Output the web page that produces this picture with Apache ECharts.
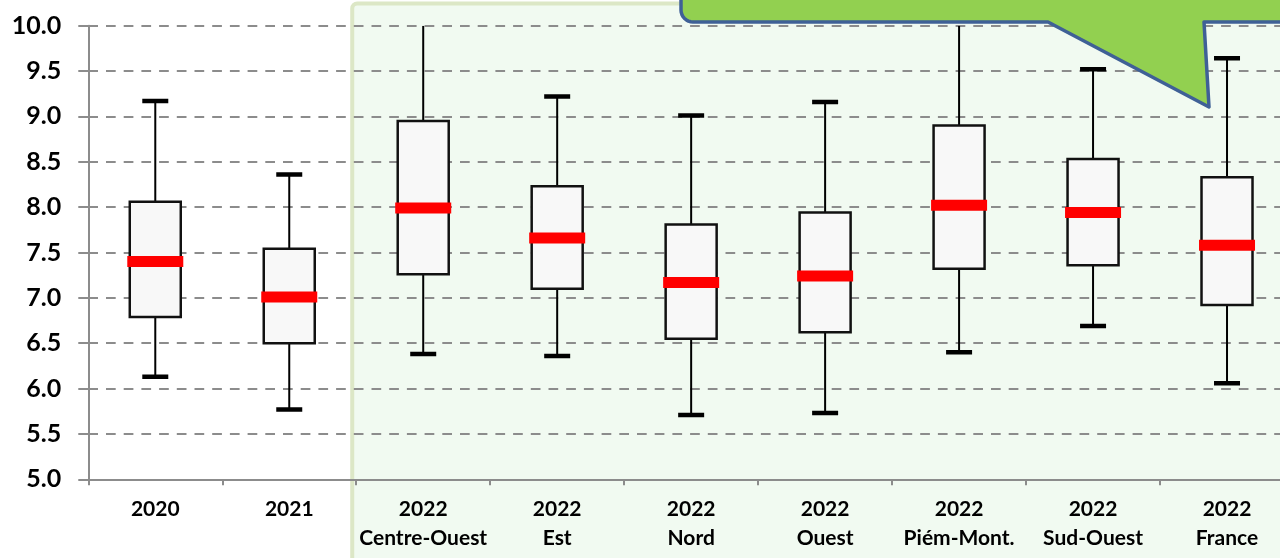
<!DOCTYPE html>
<html>
<head>
<meta charset="utf-8">
<script src="https://cdn.jsdelivr.net/npm/echarts@6/dist/echarts.min.js"></script>
<style>
  html, body { margin: 0; padding: 0; background: #ffffff; overflow: hidden; }
  #chart { width: 1300px; height: 558px; }
</style>
</head>
<body>
<div id="chart"></div>
<script>
// Category labels: year on the first line, region on the second
const years   = ['2020', '2021', '2022', '2022', '2022', '2022', '2022', '2022', '2022'];
const regions = ['', '', 'Centre-Ouest', 'Est', 'Nord', 'Ouest', 'Piém-Mont.', 'Sud-Ouest', 'France'];

// Box statistics per category
const minimum = [6.13, 5.77, 6.38, 6.36, 5.71, 5.73, 6.40, 6.69, 6.06];
const q1      = [6.79, 6.50, 7.26, 7.10, 6.55, 6.62, 7.32, 7.36, 6.92];
const median  = [7.40, 7.01, 7.99, 7.66, 7.17, 7.24, 8.02, 7.94, 7.58];
const q3      = [8.06, 7.54, 8.95, 8.23, 7.81, 7.94, 8.90, 8.53, 8.33];
const maximum = [9.17, 8.36, 10.2, 9.22, 9.01, 9.16, 10.2, 9.52, 9.64];

// Value axis ticks
const yTicks = [5.0, 5.5, 6.0, 6.5, 7.0, 7.5, 8.0, 8.5, 9.0, 9.5, 10.0];

const categories = years.map((y, i) => regions[i] ? y + '\n' + regions[i] : y);
const boxData = categories.map((c, i) => [i, minimum[i], q1[i], median[i], q3[i], maximum[i]]);

const chart = echarts.init(document.getElementById('chart'), null, { renderer: 'canvas' });

function renderBox(params, api) {
  const cs = params.coordSys;
  const i = api.value(0);
  const x = api.coord([i, api.value(3)])[0];
  const top = cs.y, bottom = cs.y + cs.height;
  const yMin = api.coord([i, api.value(1)])[1];
  const yQ1  = api.coord([i, api.value(2)])[1];
  const yMed = api.coord([i, api.value(3)])[1];
  const yQ3  = api.coord([i, api.value(4)])[1];
  const yMax = api.coord([i, api.value(5)])[1];
  const boxW = 51, capW = 26, capH = 4.5, medW = 56, medH = 11;
  const children = [];
  // upper whisker, clipped to the plot area
  children.push({ type: 'line', shape: { x1: x, y1: Math.max(yMax, top), x2: x, y2: yQ3 },
    style: { stroke: '#000', lineWidth: 2 } });
  if (yMax >= top) {
    children.push({ type: 'rect', shape: { x: x - capW / 2, y: yMax - capH / 2, width: capW, height: capH },
      style: { fill: '#000' } });
  }
  // lower whisker
  children.push({ type: 'line', shape: { x1: x, y1: yQ1, x2: x, y2: Math.min(yMin, bottom) },
    style: { stroke: '#000', lineWidth: 2 } });
  if (yMin <= bottom) {
    children.push({ type: 'rect', shape: { x: x - capW / 2, y: yMin - capH / 2, width: capW, height: capH },
      style: { fill: '#000' } });
  }
  // interquartile box
  children.push({ type: 'rect', shape: { x: x - boxW / 2, y: yQ3, width: boxW, height: yQ1 - yQ3 },
    style: { fill: '#f8f8f8', stroke: '#111', lineWidth: 2.5 } });
  // median bar
  children.push({ type: 'rect', shape: { x: x - medW / 2, y: yMed - medH / 2, width: medW, height: medH },
    style: { fill: '#ff0000' } });
  return { type: 'group', children };
}

const option = {
  backgroundColor: '#ffffff',
  animation: false,
  grid: { left: 88.3, top: 25.7, right: 6, bottom: 78.7, containLabel: false },
  xAxis: {
    type: 'category',
    data: categories,
    boundaryGap: true,
    axisLine: { lineStyle: { color: '#8c8c8c', width: 2 } },
    axisTick: { show: true, length: 6, lineStyle: { color: '#8c8c8c', width: 2 } },
    axisLabel: {
      color: '#000', fontFamily: 'Lato', fontWeight: 'bold', fontSize: 21,
      lineHeight: 29, margin: 15, interval: 0
    },
    splitLine: { show: false }
  },
  yAxis: {
    type: 'value',
    min: yTicks[0], max: yTicks[yTicks.length - 1], interval: 0.5,
    axisLine: { show: true, lineStyle: { color: '#8c8c8c', width: 2 } },
    axisTick: { show: true, length: 10, lineStyle: { color: '#8c8c8c', width: 2 } },
    axisLabel: {
      color: '#000', fontFamily: 'Lato', fontWeight: 'bold', fontSize: 25, margin: 27,
      formatter: v => v.toFixed(1)
    },
    splitLine: { show: true, lineStyle: { color: '#8c8c8c', width: 2, type: [9.7, 8] } }
  },
  series: [{
    type: 'custom',
    renderItem: renderBox,
    data: boxData,
    encode: { x: 0, y: [1, 2, 3, 4, 5] },
    clip: true,
    z: 5
  }]
};

chart.setOption(option);

// Callout outline: rounded lower-left corner, then a pointer below the box
function calloutPoints() {
  const pts = [[681, -30]];
  const r = 12, cx = 681 + r, cy = 22 - r;
  for (let k = 0; k <= 8; k++) {
    const a = Math.PI - (k / 8) * (Math.PI / 2);
    pts.push([cx + r * Math.cos(a), cy + r * Math.sin(a) * -1 * -1]);
  }
  pts.push([1048, 22], [1209, 107], [1204, 22], [1310, 22], [1310, -30]);
  return pts;
}

// Shaded panel behind the 2022 categories and the callout at the top
const leftEdge = (chart.convertToPixel({ xAxisIndex: 0 }, 1) + chart.convertToPixel({ xAxisIndex: 0 }, 2)) / 2 - 4;
chart.setOption({
  graphic: [
    {
      type: 'rect', z: -10, silent: true,
      shape: { x: leftEdge, y: 3.5, width: 1320 - leftEdge, height: 600, r: [5, 0, 0, 0] },
      style: { fill: '#f1faf1', stroke: '#dce7c6', lineWidth: 4 }
    },
    {
      type: 'polygon', z: 100, silent: true,
      shape: { points: calloutPoints() },
      style: { fill: '#92d050', stroke: '#3f6096', lineWidth: 3.5, lineJoin: 'round' }
    }
  ]
});
</script>
</body>
</html>
